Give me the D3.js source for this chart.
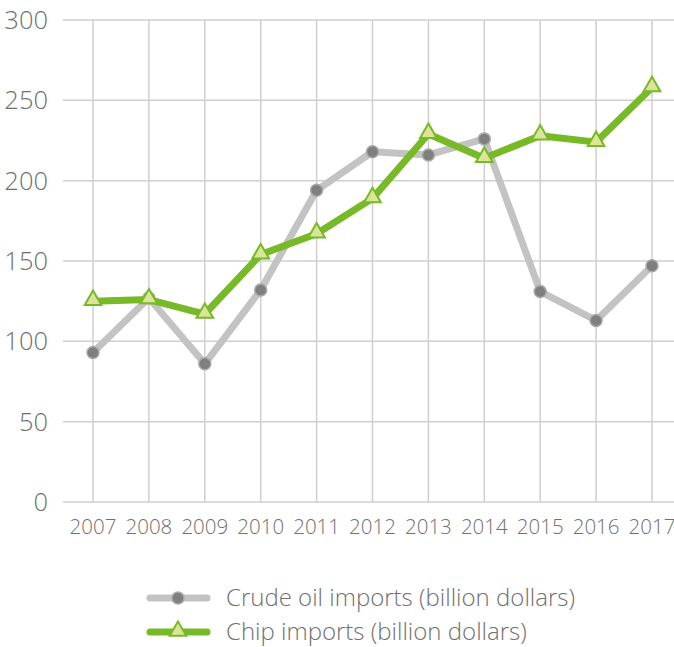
<!DOCTYPE html>
<meta charset="utf-8">
<style>
body { margin: 0; background: #fff; }
text { font-family: "Open Sans", sans-serif; font-weight: 300; fill: #707070; }
.grid line { stroke: #cfcfcf; stroke-width: 1.5; }
</style>
<body>
<script src="https://d3js.org/d3.v7.min.js"></script>
<script>

var years = ["2007","2008","2009","2010","2011","2012","2013","2014","2015","2016","2017"];
var crudeOil = [93, 127, 86, 132, 194, 218, 216, 226, 131, 113, 147];
var chips = [125, 126, 117, 154, 167, 189, 229, 214, 228, 224, 258];
var yTicks = [0, 50, 100, 150, 200, 250, 300];
var seriesNames = ["Crude oil imports (billion dollars)", "Chip imports (billion dollars)"];

var width = 674, height = 647;

var svg = d3.select("body").append("svg")
    .attr("width", width)
    .attr("height", height);

var x = d3.scalePoint()
    .domain(years)
    .range([93, 652]);

var y = d3.scaleLinear()
    .domain([0, 300])
    .range([502, 20]);

// horizontal grid + y labels
var hg = svg.append("g").attr("class", "grid");
hg.selectAll("line")
    .data(yTicks)
  .enter().append("line")
    .attr("x1", 63)
    .attr("x2", width)
    .attr("y1", function(d) { return y(d); })
    .attr("y2", function(d) { return y(d); });

svg.selectAll(".ylab")
    .data(yTicks)
  .enter().append("text")
    .attr("class", "ylab")
    .attr("x", 48)
    .attr("y", function(d) { return y(d); })
    .attr("dy", "0.35em")
    .attr("text-anchor", "end")
    .style("font-size", "25.5px")
    .text(function(d) { return d; });

// vertical grid + x labels
var vg = svg.append("g").attr("class", "grid");
vg.selectAll("line")
    .data(years)
  .enter().append("line")
    .attr("x1", function(d) { return x(d); })
    .attr("x2", function(d) { return x(d); })
    .attr("y1", y(300))
    .attr("y2", y(0));

svg.selectAll(".xlab")
    .data(years)
  .enter().append("text")
    .attr("class", "xlab")
    .attr("x", function(d) { return x(d); })
    .attr("y", 534)
    .attr("text-anchor", "middle")
    .style("font-size", "20.5px")
    .text(function(d) { return d; });

var line = d3.line()
    .x(function(d, i) { return x(years[i]); })
    .y(function(d) { return y(d); });

var gray = "#c3c3c3", green = "#78b928";
var tri = d3.symbol().type(d3.symbolTriangle).size(120);

// crude oil
svg.append("path")
    .datum(crudeOil)
    .attr("d", line)
    .attr("fill", "none")
    .attr("stroke", gray)
    .attr("stroke-width", 7)
    .attr("stroke-linejoin", "round");

svg.selectAll(".dot")
    .data(crudeOil)
  .enter().append("circle")
    .attr("class", "dot")
    .attr("cx", function(d, i) { return x(years[i]); })
    .attr("cy", function(d) { return y(d); })
    .attr("r", 6)
    .attr("fill", "#7f7f7f")
    .attr("stroke", "#a9a9a9")
    .attr("stroke-width", 1.5);

// chips
svg.append("path")
    .datum(chips)
    .attr("d", line)
    .attr("fill", "none")
    .attr("stroke", green)
    .attr("stroke-width", 7)
    .attr("stroke-linejoin", "round");

svg.selectAll(".tri")
    .data(chips)
  .enter().append("path")
    .attr("class", "tri")
    .attr("d", tri)
    .attr("transform", function(d, i) { return "translate(" + x(years[i]) + "," + (y(d) - 1) + ")"; })
    .attr("fill", "#dbe59a")
    .attr("stroke", green)
    .attr("stroke-width", 2);

// legend
var legend = svg.selectAll(".legend")
    .data(seriesNames)
  .enter().append("g")
    .attr("class", "legend")
    .attr("transform", function(d, i) { return "translate(0," + (598 + i * 34) + ")"; });

legend.append("line")
    .attr("x1", 150)
    .attr("x2", 207)
    .attr("stroke", function(d, i) { return i ? green : gray; })
    .attr("stroke-width", 7)
    .attr("stroke-linecap", "round");

legend.each(function(d, i) {
  var g = d3.select(this);
  if (i === 0) {
    g.append("circle").attr("cx", 178).attr("r", 6)
      .attr("fill", "#7f7f7f").attr("stroke", "#a9a9a9").attr("stroke-width", 1.5);
  } else {
    g.append("path").attr("d", tri).attr("transform", "translate(178,-1)")
      .attr("fill", "#dbe59a").attr("stroke", green).attr("stroke-width", 2);
  }
});

legend.append("text")
    .attr("x", 226)
    .attr("dy", "0.35em")
    .style("font-size", "24px")
    .text(function(d) { return d; });

</script>
